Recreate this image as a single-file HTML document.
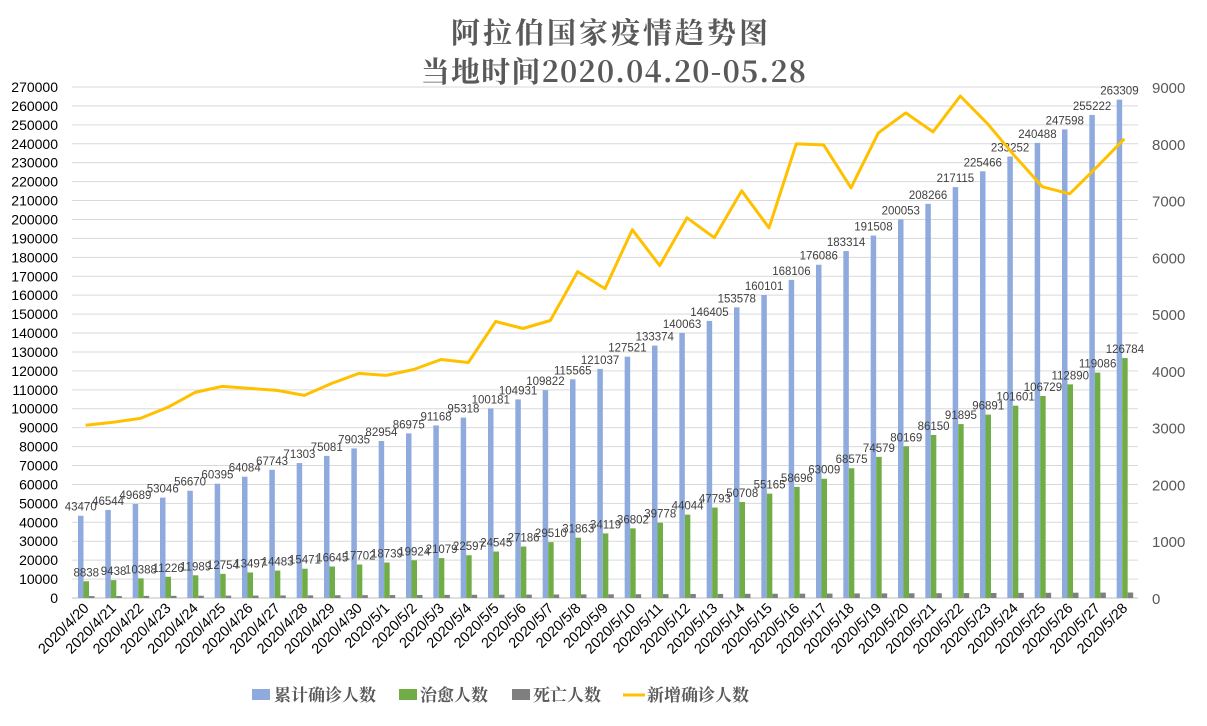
<!DOCTYPE html>
<html><head><meta charset="utf-8"><style>
body{margin:0;background:#fff;}
svg{display:block}
</style></head><body>
<svg id="c" width="1207" height="726" xmlns="http://www.w3.org/2000/svg"></svg>
<script>
const blue=[43470,46544,49689,53046,56670,60395,64084,67743,71303,75081,79035,82954,86975,91168,95318,100181,104931,109822,115565,121037,127521,133374,140063,146405,153578,160101,168106,176086,183314,191508,200053,208266,217115,225466,233252,240488,247598,255222,263309];
const green=[8838,9438,10388,11226,11989,12754,13497,14483,15471,16645,17702,18739,19924,21079,22597,24545,27186,29510,31863,34119,36802,39778,44044,47793,50708,55165,58696,63009,68575,74579,80169,86150,91895,96891,101601,106729,112890,119086,126784];
const line=[3041,3094,3164,3357,3621,3727,3691,3656,3568,3779,3955,3920,4025,4201,4148,4869,4746,4887,5748,5449,6486,5854,6697,6346,7172,6521,7998,7980,7224,8191,8543,8209,8842,8350,7780,7242,7119,7594,8086];
const dates=[];for(let d=20;d<=30;d++)dates.push('2020/4/'+d);for(let d=1;d<=28;d++)dates.push('2020/5/'+d);
const X0=72,X1=1138,Y0=598,YT=87,N=39,cw=(X1-X0)/N;
const yL=v=>Y0-v/270000*(Y0-YT), yR=v=>Y0-v/9000*(Y0-YT);
let s='';
s+='<text x="611" y="43" text-anchor="middle" font-family="Noto Serif CJK SC,serif" font-weight="bold" font-size="29" fill="#595959" letter-spacing="3">阿拉伯国家疫情趋势图</text>';
s+='<text x="614" y="82" text-anchor="middle" font-family="Noto Serif CJK SC,serif" font-weight="bold" font-size="29" fill="#595959" letter-spacing="1.2">当地时间2020.04.20-05.28</text>';
for(let i=0;i<=27;i++){const y=yL(i*10000);
 s+=`<line x1="${X0}" x2="${X1}" y1="${y}" y2="${y}" stroke="${i==0?'#bfbfbf':'#d9d9d9'}" stroke-width="1"/>`;
 s+=`<text x="58" y="${y+5}" text-anchor="end" font-family="Liberation Sans,sans-serif" font-size="14" fill="#000">${i*10000}</text>`;}
for(let i=0;i<=9;i++){const y=yR(i*1000);
 s+=`<text x="1152" y="${y+6}" font-family="Liberation Sans,sans-serif" font-size="15" fill="#595959">${i*1000}</text>`;}
const bw=5.5;
for(let i=0;i<N;i++){const st=X0+i*cw,bx=st+6;
 const d=1000+i*50;
 s+=`<rect x="${bx}" y="${yL(blue[i])}" width="${bw}" height="${Y0-yL(blue[i])}" fill="#8faadc"/>`;
 s+=`<rect x="${bx+bw}" y="${yL(green[i])}" width="${bw}" height="${Y0-yL(green[i])}" fill="#70ad47"/>`;
 s+=`<rect x="${bx+2*bw}" y="${yL(d)}" width="${bw}" height="${Y0-yL(d)}" fill="#7f7f7f"/>`;
 s+=`<text x="${bx+bw/2}" y="${yL(blue[i])-5}" text-anchor="middle" font-family="Liberation Sans,sans-serif" font-size="11.5" fill="#404040">${blue[i]}</text>`;
 s+=`<text x="${bx+bw*1.5}" y="${yL(green[i])-5}" text-anchor="middle" font-family="Liberation Sans,sans-serif" font-size="11.5" fill="#404040">${green[i]}</text>`;
 const cx=st+cw/2;
 s+=`<text transform="translate(${cx+4},${609}) rotate(-45)" text-anchor="end" font-family="Liberation Sans,sans-serif" font-size="14.5" fill="#000">${dates[i]}</text>`;
}
s+='<polyline fill="none" stroke="#ffc000" stroke-width="3" stroke-linejoin="round" points="'+line.map((v,i)=>(X0+(i+0.5)*cw).toFixed(1)+','+yR(v).toFixed(1)).join(' ')+'"/>';
const t=(x,str)=>`<text x="${x}" y="701" font-family="Noto Serif CJK SC,serif" font-weight="bold" font-size="17" fill="#595959">${str}</text>`;
s+=`<rect x="252" y="689" width="18" height="11" fill="#8faadc"/>`+t(274,'累计确诊人数');
s+=`<rect x="399" y="689" width="18" height="11" fill="#70ad47"/>`+t(420,'治愈人数');
s+=`<rect x="512" y="689" width="18" height="11" fill="#7f7f7f"/>`+t(533,'死亡人数');
s+=`<line x1="623" x2="645" y1="695" y2="695" stroke="#ffc000" stroke-width="3"/>`+t(647,'新增确诊人数');
document.getElementById('c').innerHTML=s;
</script>
</body></html>
